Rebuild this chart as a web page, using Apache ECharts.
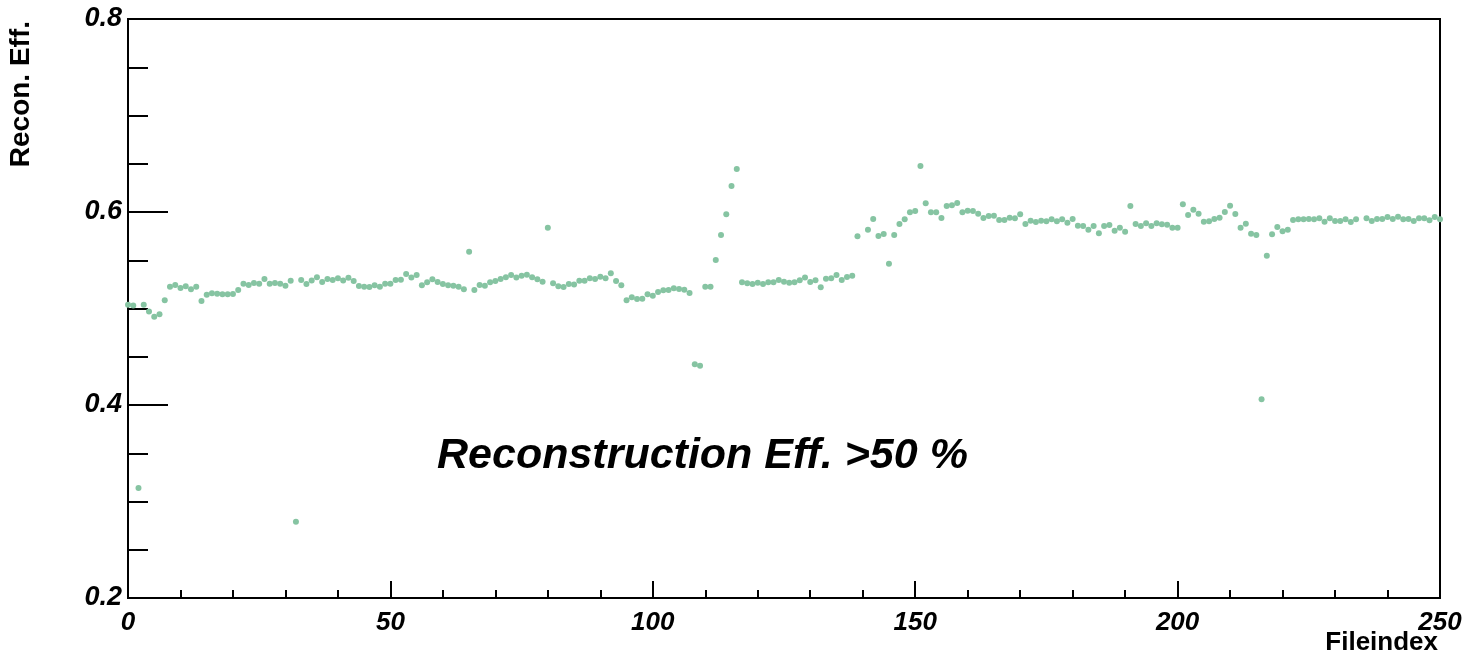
<!DOCTYPE html>
<html>
<head>
<meta charset="utf-8">
<script src="https://cdn.jsdelivr.net/npm/echarts@6/dist/echarts.min.js"></script>
<style>
html,body{margin:0;padding:0;background:#fff;}
#chart{width:1482px;height:657px;}
</style>
</head>
<body>
<div id="chart"></div>
<script>
// File index runs 0..250 (one value per index; null = no point)
const fileIndexStart = 0;
const reconEff = [
  0.504, 0.503, 0.314, 0.504, 0.497, 0.4915, 0.494, 0.5085, 0.5226, 0.5244,
  0.5212, 0.523, 0.520, 0.5226, 0.5078, 0.5143, 0.5157, 0.5153, 0.5147, 0.5147,
  0.515, 0.5192, 0.5257, 0.5244, 0.5264, 0.5257, 0.5306, 0.5257, 0.5264, 0.5257,
  0.5236, 0.5288, 0.279, 0.5295, 0.5254, 0.529, 0.5323, 0.5275, 0.5306, 0.5295,
  0.5313, 0.529, 0.5318, 0.5285, 0.5233, 0.5226, 0.5223, 0.524, 0.5226, 0.5257,
  0.5257, 0.5295, 0.5298, 0.5358, 0.532, 0.5347, 0.524, 0.5271, 0.5302, 0.5275,
  0.5254, 0.524, 0.5237, 0.5226, 0.5199, 0.5589, 0.5192, 0.5244, 0.5237, 0.5271,
  0.5285, 0.5306, 0.5323, 0.5347, 0.532, 0.534, 0.535, 0.5323, 0.5302, 0.5278,
  0.5837, 0.5261, 0.523, 0.5222, 0.5254, 0.525, 0.5288, 0.5288, 0.5313, 0.5306,
  0.533, 0.5313, 0.5365, 0.5285, 0.524, 0.5085, 0.5116, 0.5098, 0.5102, 0.5147,
  0.5133, 0.5171, 0.5188, 0.5192, 0.5209, 0.5202, 0.5195, 0.5161, 0.4422, 0.4408,
  0.5226, 0.5226, 0.5503, 0.5762, 0.5976, 0.627, 0.6446, 0.5271, 0.5261, 0.5254,
  0.5268, 0.5254, 0.5271, 0.5271, 0.5295, 0.5276, 0.5268, 0.5271, 0.5292, 0.532,
  0.5275, 0.5292, 0.522, 0.5309, 0.5313, 0.5347, 0.5295, 0.5326, 0.534, 0.5748,
  null, 0.5817, 0.5927, 0.5751, 0.5772, 0.5465, 0.5762, 0.5876, 0.5924, 0.5997,
  0.601, 0.6477, 0.609, 0.5997, 0.5997, 0.5938, 0.6062, 0.6069, 0.6093, 0.5997,
  0.6014, 0.601, 0.5983, 0.5938, 0.5959, 0.5962, 0.5917, 0.5917, 0.5941, 0.5934,
  0.5976, 0.5876, 0.591, 0.5896, 0.591, 0.5903, 0.5924, 0.5903, 0.5924, 0.5889,
  0.5927, 0.5858, 0.5855, 0.5817, 0.5855, 0.5779, 0.5855, 0.5865, 0.5806, 0.5837,
  0.5796, 0.6062, 0.5876, 0.5855, 0.5883, 0.5855, 0.5883, 0.5872, 0.5869, 0.5837,
  0.5837, 0.608, 0.5969, 0.6024, 0.5983, 0.59, 0.5903, 0.5927, 0.5941, 0.6,
  0.6066, 0.5979, 0.5837, 0.5879, 0.5775, 0.5762, 0.406, 0.5547, 0.5769, 0.5845,
  0.58, 0.5817, 0.5917, 0.5924, 0.5924, 0.5927, 0.5924, 0.5934, 0.59, 0.5934,
  0.5907, 0.5907, 0.5924, 0.5896, 0.5924, null, 0.5934, 0.5907, 0.5927, 0.5927,
  0.5948, 0.5927, 0.5952, 0.5924, 0.5927, 0.5907, 0.5934, 0.5934, 0.5914, 0.5948,
  0.5924
];
const yTickLabels = ['0.2', '0.4', '0.6', '0.8'];
const xTickLabels = ['0', '50', '100', '150', '200', '250'];
const xTitle = 'Fileindex';
const yTitle = 'Recon. Eff.';
const annotation = 'Reconstruction Eff. >50 %';

const points = [];
reconEff.forEach((v, i) => { if (v !== null) points.push([fileIndexStart + i, v]); });

const FONT = '"Liberation Sans", Arial, Helvetica, sans-serif';
const chart = echarts.init(document.getElementById('chart'), null, {renderer: 'canvas'});
chart.setOption({
  animation: false,
  backgroundColor: '#ffffff',
  grid: {
    left: 128, right: 42, top: 19, bottom: 59,
    show: true, borderColor: '#000', borderWidth: 2, backgroundColor: 'transparent'
  },
  xAxis: {
    type: 'value', min: 0, max: 250, interval: 50,
    axisLine: {show: true, lineStyle: {color: '#000', width: 2}},
    axisTick: {show: true, inside: true, length: 17, lineStyle: {color: '#000', width: 2}},
    minorTick: {show: true, splitNumber: 5, length: 8, lineStyle: {color: '#000', width: 2}},
    splitLine: {show: false},
    axisLabel: {
      margin: 12, color: '#000', fontFamily: FONT, fontSize: 26,
      fontWeight: 'bold', fontStyle: 'italic',
      formatter: (v) => xTickLabels[Math.round(v / 50)] ?? String(v)
    }
  },
  yAxis: {
    type: 'value', min: 0.2, max: 0.8, interval: 0.2,
    axisLine: {show: true, lineStyle: {color: '#000', width: 2}},
    axisTick: {show: true, inside: true, length: 40, lineStyle: {color: '#000', width: 2}},
    minorTick: {show: true, splitNumber: 4, length: 20, lineStyle: {color: '#000', width: 2}},
    splitLine: {show: false},
    axisLabel: {
      margin: 6, color: '#000', fontFamily: FONT, fontSize: 27,
      fontWeight: 'bold', fontStyle: 'italic',
      formatter: (v) => yTickLabels[Math.round((v - 0.2) / 0.2)] ?? v.toFixed(1)
    }
  },
  graphic: [
    {
      type: 'text', left: 437, top: 435, silent: true,
      style: {text: annotation, fill: '#000', font: 'italic bold 43px ' + FONT}
    },
    {
      type: 'text', right: 44, top: 630, silent: true,
      style: {text: xTitle, fill: '#000', font: 'bold 26px ' + FONT}
    },
    {
      type: 'text', x: 21, y: 21, rotation: Math.PI / 2, silent: true,
      style: {text: yTitle, fill: '#000', font: 'bold 28px ' + FONT,
              align: 'right', verticalAlign: 'middle'}
    }
  ],
  series: [{
    type: 'scatter',
    data: points,
    symbol: 'circle',
    symbolSize: 6,
    itemStyle: {color: '#86c4a2', opacity: 1},
    clip: false
  }]
});
</script>
</body>
</html>
